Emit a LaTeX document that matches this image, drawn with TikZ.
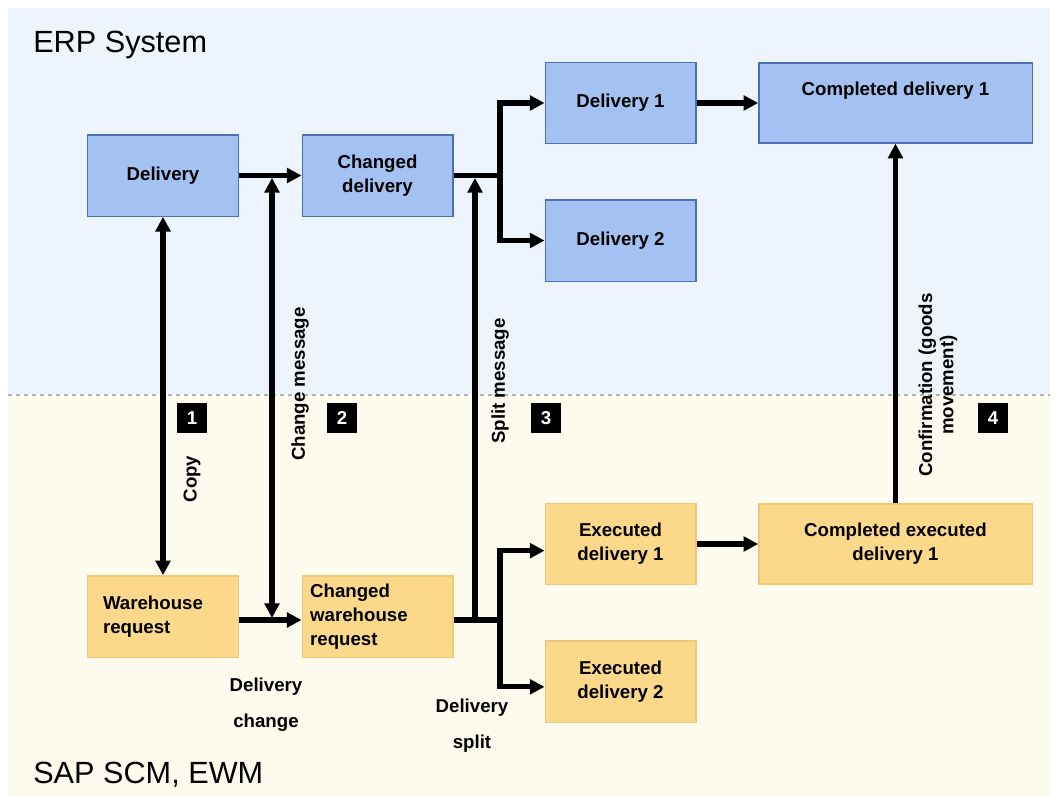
\documentclass[tikz,border=0pt]{standalone}
\usepackage{fontspec}
\setmainfont{Liberation Sans}
\usepackage{tikz}
\usetikzlibrary{arrows.meta}

\definecolor{erpbg}{HTML}{EEF4FC}
\definecolor{ewmbg}{HTML}{FDFAEE}
\definecolor{erpfill}{HTML}{A3C2F2}
\definecolor{erpdraw}{HTML}{4C70B4}
\definecolor{ewmfill}{HTML}{FCD98A}
\definecolor{ewmdraw}{HTML}{F0C878}

\begin{document}
\begin{tikzpicture}[x=0.75pt,y=-0.75pt,>={Triangle[length=11pt,width=11pt]},
  flow/.style={line width=3.8pt},
  box node/.style={rectangle,draw,line width=1pt,minimum width=113pt,minimum height=61pt,
    font=\fontsize{14}{18}\selectfont\bfseries,align=center},
  erp node/.style={box node,fill=erpfill,draw=erpdraw},
  ewm node/.style={box node,fill=ewmfill,draw=ewmdraw},
  wide/.style={minimum width=205pt,minimum height=60pt},
  msg label/.style={rotate=90,font=\fontsize{14}{16}\selectfont\bfseries,align=center},
  num box/.style={fill=black,text=white,minimum size=23pt,inner sep=0pt,font=\fontsize{14}{16}\selectfont\bfseries},
  sys label/.style={anchor=west,inner sep=0pt,font=\fontsize{23}{26}\selectfont}]
  \useasboundingbox (0,0) rectangle (1058,796);
  % the two systems
  \fill[erpbg] (8,8) rectangle (1050,395);
  \fill[ewmbg] (8,395) rectangle (1050,796);
  \draw[gray!60,dashed,line width=0.8pt] (8,395) -- (1050,395);
  \node[sys label] (erp) at (33,45) {ERP System};
  \node[sys label] (ewm) at (33,775) {SAP SCM, EWM};

  % ERP documents
  \node[erp node] (del) at (163,175.5) {Delivery};
  \node[erp node] (chd) at (377.5,175.5) {Changed\\delivery};
  \node[erp node] (d1) at (620.5,103) {Delivery 1};
  \node[erp node] (d2) at (620.5,240.5) {Delivery 2};
  \node[erp node,wide,text depth=22pt] (cd1) at (895.5,103) {Completed delivery 1};

  % EWM documents
  \node[ewm node,text width=90pt,inner xsep=11pt,align=left] (wr) at (163,616.5) {Warehouse\\request};
  \node[ewm node,text width=101pt,inner xsep=6pt,align=left] (cwr) at (377.5,616.5) {Changed\\warehouse\\request};
  \node[ewm node] (exd1) at (620.5,544) {Executed\\delivery 1};
  \node[ewm node] (exd2) at (620.5,681.5) {Executed\\delivery 2};
  \node[ewm node,wide] (ced1) at (895.5,544) {Completed executed\\delivery 1};

  % junctions
  \coordinate (upfork) at (500,175.5);
  \coordinate (lowfork) at (500,620);
  \coordinate (chtop) at (272,178);
  \coordinate (chbot) at (272,618);
  \coordinate (sptop) at (475,178);
  \coordinate (spbot) at (475,620);

  \draw[flow,->] (del) -- (chd);
  \draw[flow,->] (wr.east |- lowfork) -- (cwr.west |- lowfork);
  \draw[flow,<->] (del) -- (wr);
  \draw[flow,<->] (chtop) -- (chbot);
  \draw[flow] (chd.east) -- (upfork);
  \draw[flow,->] (upfork) |- (d1);
  \draw[flow,->] (upfork) |- (d2);
  \draw[flow] (cwr.east |- lowfork) -- (lowfork);
  \draw[flow,->] (lowfork) |- ([yshift=-5pt]exd1.west);
  \draw[flow,->] (lowfork) |- ([yshift=-4pt]exd2.west);
  \draw[flow,->] (spbot) -- (sptop);
  \draw[flow,->] (d1) -- (cd1);
  \draw[flow,->] (exd1) -- (ced1);
  \draw[flow,->] (ced1) -- (cd1);

  % message labels
  \node[msg label] (copy) at (192,479) {Copy};
  \node[msg label] (chmsg) at (300,384) {Change message};
  \node[msg label] (spmsg) at (500,381) {Split message};
  \node[msg label] (conf) at (938,385) {Confirmation (goods\\movement)};
  \node[num box] (n1) at (192,418) {1};
  \node[num box] (n2) at (342,418) {2};
  \node[num box] (n3) at (546,418) {3};
  \node[num box] (n4) at (993,418) {4};
  \node[font=\fontsize{14}{27}\selectfont\bfseries,align=center] (dchg) at (266,705) {Delivery\\change};
  \node[font=\fontsize{14}{27}\selectfont\bfseries,align=center] (dspl) at (472,726) {Delivery\\split};
\end{tikzpicture}
\end{document}
